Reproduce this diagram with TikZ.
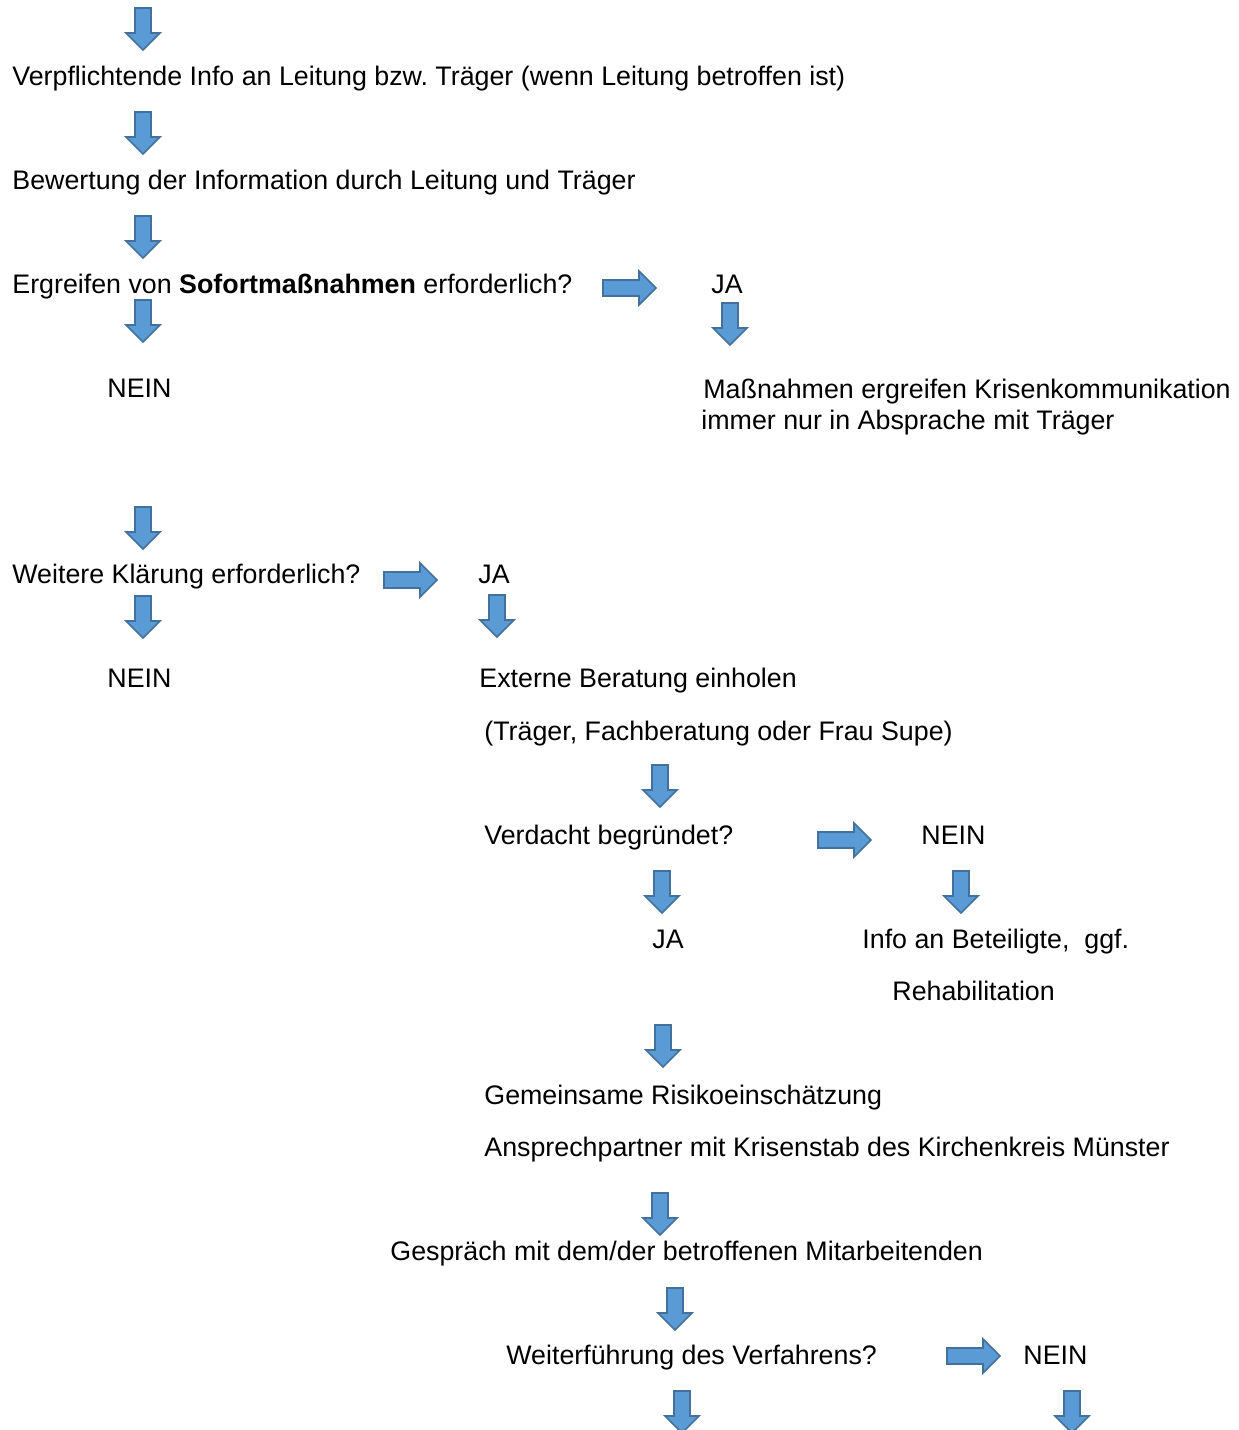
\documentclass[tikz,border=0pt]{standalone}
\usepackage{fontspec}
\setmainfont{Liberation Sans}
\frenchspacing

\definecolor{arrowfill}{HTML}{5B9BD5}
\definecolor{arrowline}{HTML}{41719C}

\tikzset{
	blockarrow/.style={fill=arrowfill, draw=arrowline, line width=0.8pt, line join=miter},
	txt/.style={anchor=base west, inner sep=0pt, font=\fontsize{13.4pt}{15.5pt}\selectfont},
	pics/downarrow/.style={code={
		\draw[blockarrow] (-8,0) -- (8,0) -- (8,25) -- (17,25) -- (0,42) -- (-17,25) -- (-8,25) -- cycle;}},
	pics/rightarrow/.style={code={
		\draw[blockarrow] (0,-8) -- (36,-8) -- (36,-17) -- (53,0) -- (36,17) -- (36,8) -- (0,8) -- cycle;}}
}

\begin{document}
\begin{tikzpicture}[x=0.5pt, y=-0.5pt]
			\useasboundingbox (0,0) rectangle (1238,1430);

			% Start of the procedure
			\pic (down1) at (143,8) {downarrow};
			\node[txt] (info) at (12,85) {Verpflichtende Info an Leitung bzw. Träger (wenn Leitung betroffen ist)};
			\pic (down2) at (143,112) {downarrow};
			\node[txt] (bewertung) at (12,189) {Bewertung der Information durch Leitung und Träger};
			\pic (down3) at (143,216) {downarrow};

			% Sofortmassnahmen
			\node[txt] (sofort) at (12,293) {Ergreifen von {\bfseries Sofortmaßnahmen} erforderlich?};
			\pic (right1) at (603,288) {rightarrow};
			\node[txt] (sofortja) at (711,293) {JA};
			\pic (down4) at (143,300) {downarrow};
			\pic (down5) at (730,303) {downarrow};
			\node[txt] (sofortnein) at (107,397) {NEIN};
			\node[txt] (massnahmen) at (703,398) {Maßnahmen ergreifen Krisenkommunikation};
			\node[txt] (absprache) at (701,429) {immer nur in Absprache mit Träger};

			% Weitere Klaerung
			\pic (down6) at (143,507) {downarrow};
			\node[txt] (klaerung) at (12,583) {Weitere Klärung erforderlich?};
			\pic (right2) at (384,580) {rightarrow};
			\node[txt] (klaerungja) at (478,583) {JA};
			\pic (down7) at (143,596) {downarrow};
			\pic (down8) at (497,595) {downarrow};
			\node[txt] (klaerungnein) at (107,687) {NEIN};
			\node[txt] (extern) at (479,687) {Externe Beratung einholen};
			\node[txt] (beratung) at (484,740) {(Träger, Fachberatung oder Frau Supe)};

			% Verdacht
			\pic (down9) at (660,765) {downarrow};
			\node[txt] (verdacht) at (484,844) {Verdacht begründet?};
			\pic (right3) at (818,840) {rightarrow};
			\node[txt] (verdachtnein) at (921,844) {NEIN};
			\pic (down10) at (662,871) {downarrow};
			\pic (down11) at (961,871) {downarrow};
			\node[txt] (verdachtja) at (652,948) {JA};
			\node[txt] (beteiligte) at (862,948) {Info an Beteiligte,\ \ ggf.};
			\node[txt] (rehab) at (892,1000) {Rehabilitation};

			% Risikoeinschaetzung und Gespraech
			\pic (down12) at (663,1025) {downarrow};
			\node[txt] (risiko) at (484,1104) {Gemeinsame Risikoeinschätzung};
			\node[txt] (krisenstab) at (484,1156) {Ansprechpartner mit Krisenstab des Kirchenkreis Münster};
			\pic (down13) at (660,1193) {downarrow};
			\node[txt] (gespraech) at (390,1260) {Gespräch mit dem/der betroffenen Mitarbeitenden};
			\pic (down14) at (675,1288) {downarrow};

			% Weiterfuehrung
			\node[txt] (weiter) at (506,1364) {Weiterführung des Verfahrens?};
			\pic (right4) at (947,1356) {rightarrow};
			\node[txt] (weiternein) at (1023,1364) {NEIN};
			\pic (down15) at (682,1391) {downarrow};
			\pic (down16) at (1072,1391) {downarrow};
		\end{tikzpicture}
\end{document}
